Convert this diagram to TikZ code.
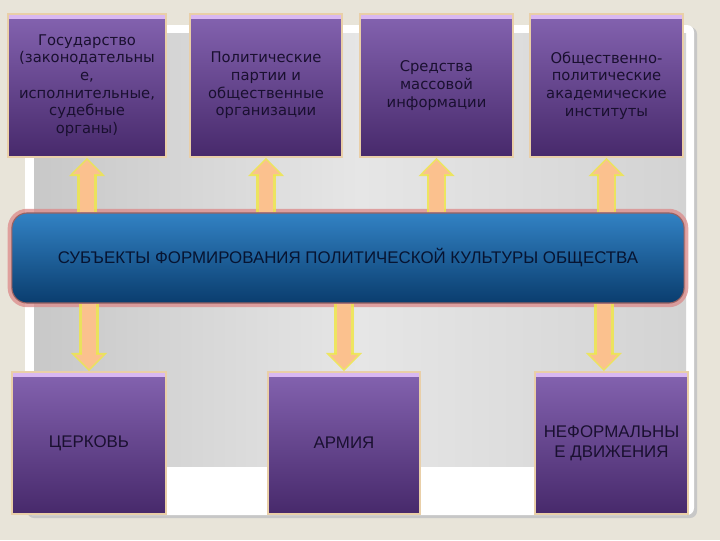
\documentclass[tikz,border=0pt]{standalone}
\usepackage{fontspec}
\setmainfont{DejaVu Sans}
\newfontfamily\arialfont{Liberation Sans}
\usetikzlibrary{arrows.meta}

\definecolor{slidebg}{HTML}{E8E4D9}
\definecolor{panelgrey}{HTML}{C8C8C8}
\definecolor{panellight}{HTML}{E6E6E6}
\definecolor{boxtop}{HTML}{8463B0}
\definecolor{boxbot}{HTML}{47296B}
\definecolor{boxband}{HTML}{D9B8F2}
\definecolor{boxedge}{HTML}{E9CFA8}
\definecolor{boxtext}{HTML}{1A1030}
\definecolor{bartop}{HTML}{3282C4}
\definecolor{barbot}{HTML}{0A3D6E}
\definecolor{barglow}{HTML}{DC8A8A}
\definecolor{bartext}{HTML}{071431}
\definecolor{peach}{HTML}{FBC18E}
\definecolor{glowyellow}{HTML}{EFE64A}

\begin{document}
\begin{tikzpicture}[x=0.025cm,y=-0.025cm,
	box/.style={draw=boxedge, line width=1.2pt, top color=boxtop, bottom color=boxbot,
		text=boxtext, align=center, inner sep=2pt,
		path picture={\fill[boxband] (path picture bounding box.north west) rectangle ([yshift=-0.13cm]path picture bounding box.north east);}},
	topbox/.style={box, minimum height=3.575cm, font=\fontsize{10.5}{12.6}\selectfont},
	botbox/.style={box, minimum height=3.55cm, font=\arialfont\fontsize{12}{14}\selectfont},
	fatarrow/.style={draw=peach, line width=10.5pt, -{Triangle[width=19pt,length=10pt]}, shorten >=1.5pt,
		preaction={draw=glowyellow, line width=14pt, -{Triangle[width=25pt,length=13pt]}, shorten >=0pt, opacity=0.85}}]
	\useasboundingbox (0,0) rectangle (720,540);
	% background
	\fill[slidebg] (0,0) rectangle (720,540);
	\fill[black!22, rounded corners=5pt] (27,27) rectangle (697,518);
	\fill[white, rounded corners=5pt] (25,25) rectangle (694,515);
	\shade[left color=panelgrey, right color=panelgrey!80, middle color=panellight] (34,33) rectangle (686,466);
	% nodes
	\node[topbox, minimum width=3.95cm] (state) at (87,85.5) {Государство\\(законодательны\\е,\\исполнительные,\\судебные\\органы)};
	\node[topbox, minimum width=3.8cm] (parties) at (266,85.5) {Политические\\партии и\\общественные\\организации};
	\node[topbox, minimum width=3.825cm] (media) at (436.5,85.5) {Средства\\массовой\\информации};
	\node[topbox, minimum width=3.825cm] (inst) at (606.5,85.5) {Общественно-\\политические\\академические\\институты};
	\node[draw=barglow!70!black, line width=0.8pt, rounded corners=0.38cm, top color=bartop, bottom color=barbot,
		minimum width=16.8cm, minimum height=2.25cm, text=bartext, font=\arialfont\fontsize{12}{14}\selectfont,
		preaction={draw=barglow, line width=6pt, opacity=0.75}] (bar) at (348,258)
		{СУБЪЕКТЫ ФОРМИРОВАНИЯ ПОЛИТИЧЕСКОЙ КУЛЬТУРЫ ОБЩЕСТВА};
	\node[botbox, minimum width=3.85cm] (church) at (89,443) {ЦЕРКОВЬ};
	\node[botbox, minimum width=3.8cm] (army) at (344,443) {АРМИЯ};
	\node[botbox, minimum width=3.825cm] (movements) at (611.5,443) {НЕФОРМАЛЬНЫ\\Е ДВИЖЕНИЯ};
	\coordinate (movin) at ([xshift=-0.19cm]movements.north);
	% arrows up
	\draw[fatarrow] (bar.north -| state) -- (state.south);
	\draw[fatarrow] (bar.north -| parties) -- (parties.south);
	\draw[fatarrow] (bar.north -| media) -- (media.south);
	\draw[fatarrow] (bar.north -| inst) -- (inst.south);
	% arrows down
	\draw[fatarrow] (bar.south -| church) -- (church.north);
	\draw[fatarrow] (bar.south -| army) -- (army.north);
	\draw[fatarrow] (bar.south -| movin) -- (movin);
\end{tikzpicture}
\end{document}
